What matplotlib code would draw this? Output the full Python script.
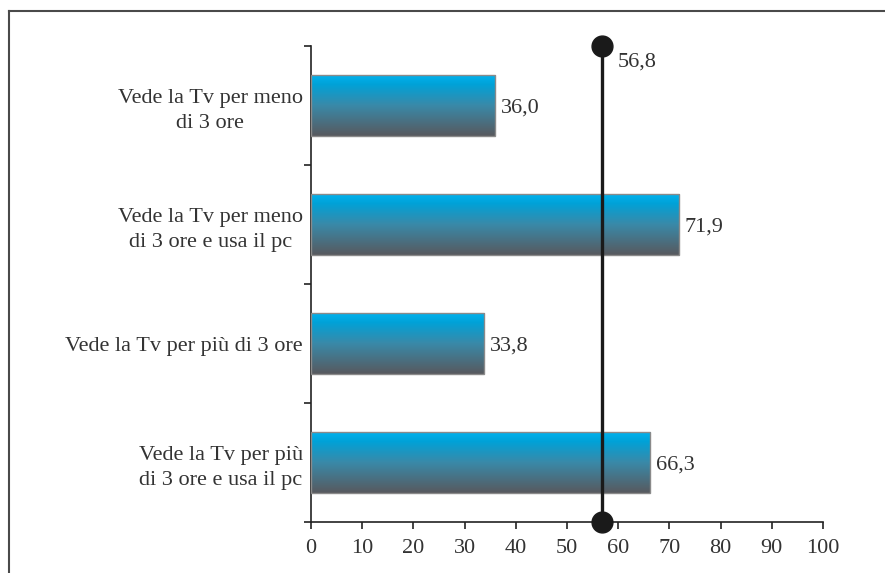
import matplotlib
matplotlib.use("Agg")
import matplotlib.pyplot as plt
import numpy as np
from matplotlib.colors import LinearSegmentedColormap
from matplotlib.lines import Line2D

categories = [
    "Vede la Tv per meno\ndi 3 ore",
    "Vede la Tv per meno\ndi 3 ore e usa il pc",
    "Vede la Tv per più di 3 ore",
    "Vede la Tv per più\ndi 3 ore e usa il pc",
]
values = [36.0, 71.9, 33.8, 66.3]
reference_value = 56.8
x_ticks = [0, 10, 20, 30, 40, 50, 60, 70, 80, 90, 100]

plt.rcParams["font.family"] = ["Liberation Serif", "DejaVu Serif"]
TEXT_COLOR = "#333333"
FS = 16

fig = plt.figure(figsize=(8.85, 5.73), dpi=100)
ax = fig.add_axes([311 / 885, 1 - 522 / 573, 512 / 885, 476 / 573])

# cyan on top fading to grey at the bottom of each bar
grad_cmap = LinearSegmentedColormap.from_list(
    "bar_grad", [(0.0, "#58595e"), (0.5, "#3a89a8"), (0.85, "#00a2d8"), (1.0, "#00b2ee")])
grad = np.linspace(1, 0, 256).reshape(-1, 1)

y_pos = np.arange(len(categories))
height = 0.51
bars = ax.barh(y_pos, values, height=height, color="none", edgecolor="#8a8a8a",
               linewidth=1.0, zorder=3)
for bar, v, y in zip(bars, values, y_pos):
    im = ax.imshow(grad, cmap=grad_cmap, aspect="auto", origin="upper",
                   extent=(0, v, y + height / 2, y - height / 2), zorder=2)
    im.set_clip_path(bar)
    ax.text(v + 1.1, y, f"{v:.1f}".replace(".", ","), va="center_baseline", ha="left",
            fontsize=FS, color=TEXT_COLOR)

ax.set_xlim(0, 100)
ax.set_ylim(len(categories) - 0.5, -0.5)

# reference line with end dots
ref_y = [-0.5, len(categories) - 0.5]
ax.plot([reference_value] * 2, ref_y, color="#1a1a1a", lw=2.4, zorder=5, clip_on=False)
ax.plot([reference_value] * 2, ref_y, linestyle="none", marker="o", markersize=15,
        color="#1a1a1a", zorder=6, clip_on=False)
ax.annotate(f"{reference_value:.1f}".replace(".", ","), (reference_value, -0.5),
            xytext=(11.5, -11.5), textcoords="offset points", va="center", ha="left",
            fontsize=FS, color=TEXT_COLOR, annotation_clip=False)

ax.set_xticks(x_ticks)
ax.set_xticklabels([str(t) for t in x_ticks], fontsize=FS, color=TEXT_COLOR)
ax.set_yticks(y_pos)
ax.set_yticklabels(categories, fontsize=FS, color=TEXT_COLOR, multialignment="center",
                   linespacing=1.45)
ax.set_yticks(np.arange(len(categories) + 1) - 0.5, minor=True)
ax.tick_params(axis="y", which="major", length=0, pad=6)
ax.tick_params(axis="y", which="minor", length=5, width=1.2, direction="out", color="#222222")
ax.tick_params(axis="x", length=5, width=1.2, direction="out", color="#222222", pad=7)

for side in ("top", "right"):
    ax.spines[side].set_visible(False)
for side in ("left", "bottom"):
    ax.spines[side].set_linewidth(1.2)
    ax.spines[side].set_color("#222222")

# outer frame lines along the top and left of the figure
fig.add_artist(Line2D([8.5 / 885, 1.0], [1 - 11 / 573, 1 - 11 / 573],
                      transform=fig.transFigure, color="#4a4a4a", lw=1.5))
fig.add_artist(Line2D([8.5 / 885, 8.5 / 885], [0.0, 1 - 11 / 573],
                      transform=fig.transFigure, color="#4a4a4a", lw=1.5))

fig.savefig("out.png", dpi=100)
